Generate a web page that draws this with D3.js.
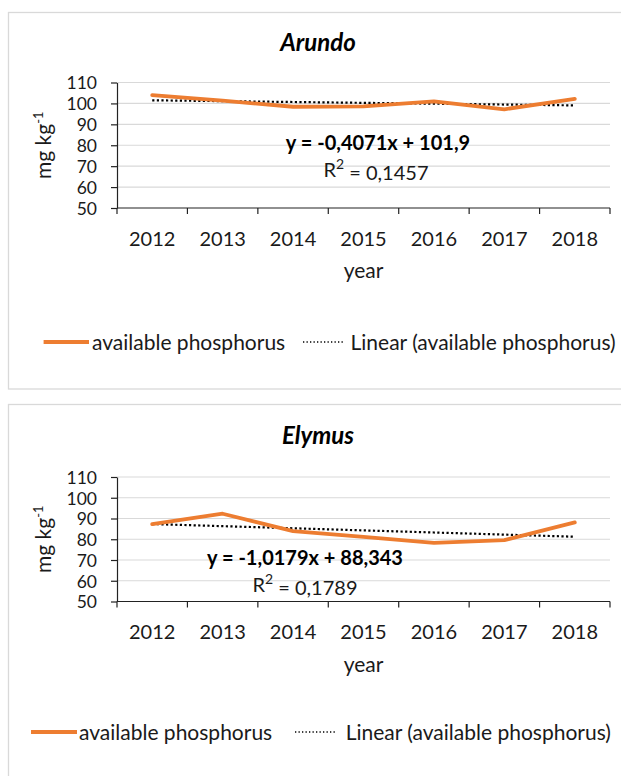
<!DOCTYPE html>
<html>
<head>
<meta charset="utf-8">
<script src="https://cdn.jsdelivr.net/npm/d3@7"></script>
<style>
  html, body { margin: 0; padding: 0; background: #fff; }
  svg { display: block; font-family: Lato, "Open Sans", sans-serif; }
</style>
</head>
<body>
<svg id="chart" width="621" height="776"></svg>
<script>
// ---- data ----
const years = ["2012", "2013", "2014", "2015", "2016", "2017", "2018"];
const titles = ["Arundo", "Elymus"];
const arundo = [104.0, 101.3, 98.4, 98.6, 101.0, 97.2, 102.2];
const elymus = [87.3, 92.3, 83.9, 81.1, 78.3, 79.6, 88.1];
const trendSlopes = [-0.4071, -1.0179];
const trendIntercepts = [101.9, 88.343];
const equations = ["y = -0,4071x + 101,9", "y = -1,0179x + 88,343"];
const r2Values = ["0,1457", "0,1789"];
const yTicks = [50, 60, 70, 80, 90, 100, 110];
const seriesName = "available phosphorus";
const trendName = "Linear (available phosphorus)";
const xTitle = "year";
const yTitle = "mg kg";
const yTitleSup = "-1";
const series = [arundo, elymus];

// ---- layout ----
const layout = [
  {frameTop: 12.5, frameBottom: 389, titleY: 51, plotTop: 82.5, plotBottom: 208,
   eqX: 378, eqY: 150, r2X: 376, r2Y: 176.5, legY: 342, legOrange: [43.6, 89], legText1: 92,
   legDot: [303, 345], legText2: 350.5},
  {frameTop: 404.5, frameBottom: 800, titleY: 444, plotTop: 477, plotBottom: 601.5,
   eqX: 305, eqY: 565, r2X: 305, r2Y: 591.5, legY: 732, legOrange: [31, 77], legText1: 79,
   legDot: [295, 337], legText2: 345.7}
];
const plotLeft = 117, plotRight = 610;
const orange = "#ED7D31";
const fs = 20;

const svg = d3.select("#chart");

series.forEach((vals, i) => {
  const L = layout[i];
  const g = svg.append("g");

  // frame
  g.append("rect")
    .attr("x", 8.5).attr("y", L.frameTop)
    .attr("width", 640).attr("height", L.frameBottom - L.frameTop)
    .attr("fill", "#fff").attr("stroke", "#d9d9d9").attr("stroke-width", 1.3);

  // title
  g.append("text")
    .attr("x", 318).attr("y", L.titleY)
    .attr("text-anchor", "middle")
    .attr("font-size", 24).attr("font-weight", "bold").attr("font-style", "italic")
    .attr("fill", "#000")
    .text(titles[i]);

  const x = d3.scaleBand().domain(years).range([plotLeft, plotRight]).paddingInner(0).paddingOuter(0);
  const y = d3.scaleLinear().domain([50, 110]).range([L.plotBottom, L.plotTop]);
  const bw = x.bandwidth();
  const cx = d => x(d) + bw / 2;

  // gridlines
  g.append("g").selectAll("line")
    .data(yTicks.filter(t => t > 50))
    .join("line")
    .attr("x1", plotLeft).attr("x2", plotRight)
    .attr("y1", d => y(d)).attr("y2", d => y(d))
    .attr("stroke", "#d9d9d9").attr("stroke-width", 1.2);

  // y axis
  const ya = g.append("g")
    .attr("transform", `translate(${plotLeft},0)`)
    .call(d3.axisLeft(y).tickValues(yTicks).tickSize(6).tickPadding(14).tickSizeOuter(0));
  ya.select(".domain").attr("stroke", "#222").attr("stroke-width", 1.2);
  ya.selectAll(".tick line").attr("stroke", "#222").attr("stroke-width", 1.2);
  ya.selectAll(".tick text")
    .attr("font-size", 17.5).attr("font-family", "Lato").attr("fill", "#1a1a1a")
    .attr("dy", "0.36em");

  // x axis line and ticks at category boundaries
  const boundaries = years.map(d => x(d)).concat([plotRight]);
  g.append("line")
    .attr("x1", plotLeft).attr("x2", plotRight)
    .attr("y1", L.plotBottom).attr("y2", L.plotBottom)
    .attr("stroke", "#222").attr("stroke-width", 1.2);
  g.append("g").selectAll("line")
    .data(boundaries).join("line")
    .attr("x1", d => d).attr("x2", d => d)
    .attr("y1", L.plotBottom).attr("y2", L.plotBottom + 6)
    .attr("stroke", "#222").attr("stroke-width", 1.2);
  g.append("g").selectAll("text")
    .data(years).join("text")
    .attr("x", d => cx(d)).attr("y", L.plotBottom + 37.5)
    .attr("text-anchor", "middle")
    .attr("font-size", fs).attr("fill", "#1a1a1a")
    .text(d => d);

  // axis titles
  g.append("text")
    .attr("x", (plotLeft + plotRight) / 2).attr("y", L.plotBottom + 70)
    .attr("text-anchor", "middle").attr("font-size", 21).attr("fill", "#1a1a1a")
    .text(xTitle);
  const yt = g.append("text")
    .attr("transform", `translate(51,${(L.plotTop + L.plotBottom) / 2}) rotate(-90)`)
    .attr("text-anchor", "middle").attr("font-size", 21).attr("fill", "#1a1a1a");
  yt.append("tspan").text(yTitle);
  yt.append("tspan").attr("font-size", 13).attr("dy", "-0.6em").text(yTitleSup);

  // trend line (from the displayed regression equation)
  const trend = years.map((d, k) => ({year: d, v: trendSlopes[i] * (k + 1) + trendIntercepts[i]}));
  g.append("path")
    .datum(trend)
    .attr("fill", "none").attr("stroke", "#000").attr("stroke-width", 2.2)
    .attr("stroke-dasharray", "2.2,2.4")
    .attr("d", d3.line().x(d => cx(d.year)).y(d => y(d.v)));

  // data line
  g.append("path")
    .datum(years.map((d, k) => ({year: d, v: vals[k]})))
    .attr("fill", "none").attr("stroke", orange).attr("stroke-width", 3.8)
    .attr("stroke-linejoin", "round").attr("stroke-linecap", "round")
    .attr("d", d3.line().x(d => cx(d.year)).y(d => y(d.v)));

  // equation labels
  g.append("text")
    .attr("x", L.eqX).attr("y", L.eqY).attr("text-anchor", "middle")
    .attr("font-size", fs).attr("font-weight", "bold").attr("fill", "#000")
    .text(equations[i]);
  const r2 = g.append("text")
    .attr("x", L.r2X).attr("y", L.r2Y).attr("text-anchor", "middle")
    .attr("font-size", fs).attr("fill", "#1a1a1a");
  r2.append("tspan").text("R");
  r2.append("tspan").attr("font-size", 14).attr("dy", "-0.55em").text("2");
  r2.append("tspan").attr("dy", "0.55em").text(" = " + r2Values[i]);

  // legend
  g.append("line")
    .attr("x1", L.legOrange[0]).attr("x2", L.legOrange[1])
    .attr("y1", L.legY).attr("y2", L.legY)
    .attr("stroke", orange).attr("stroke-width", 3.8);
  g.append("text")
    .attr("x", L.legText1).attr("y", L.legY + 7.5).attr("font-size", 21).attr("fill", "#1a1a1a")
    .text(seriesName);
  g.append("line")
    .attr("x1", L.legDot[0]).attr("x2", L.legDot[1])
    .attr("y1", L.legY).attr("y2", L.legY)
    .attr("stroke", "#000").attr("stroke-width", 1.3).attr("stroke-dasharray", "1.3,2.2");
  g.append("text")
    .attr("x", L.legText2).attr("y", L.legY + 7.5).attr("font-size", 21).attr("fill", "#1a1a1a")
    .text(trendName);
});
</script>
</body>
</html>
